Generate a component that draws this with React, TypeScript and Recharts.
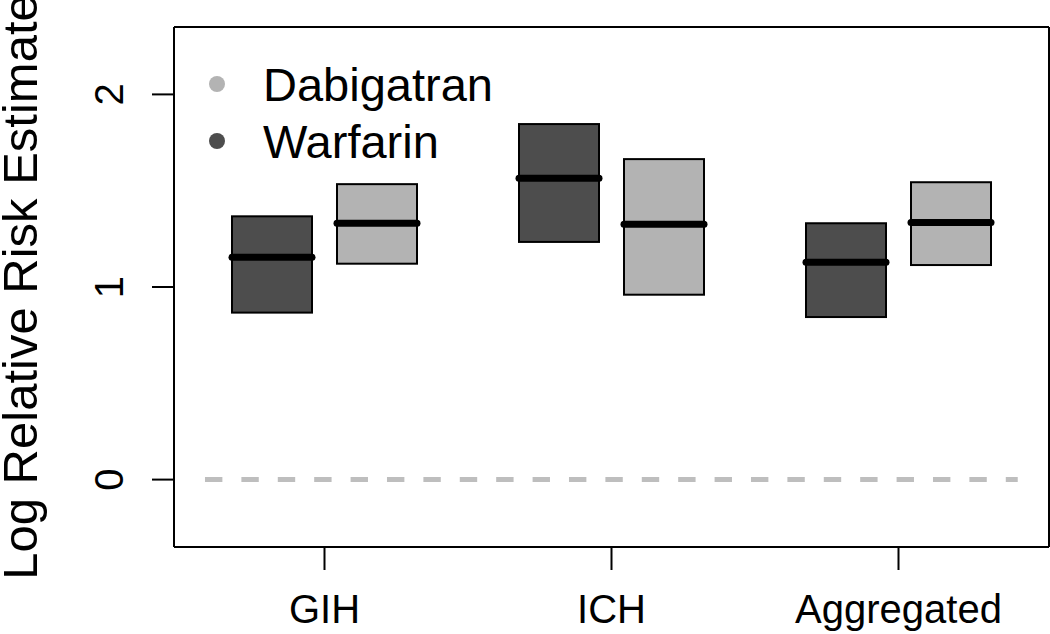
import React from "react"
import {
  Bar,
  CartesianGrid,
  ComposedChart,
  Line,
  XAxis,
  YAxis,
} from "recharts"

const categories = ["GIH", "ICH", "Aggregated"]
const warfarinLow = [0.867, 1.234, 0.844]
const warfarinMedian = [1.154, 1.565, 1.128]
const warfarinHigh = [1.367, 1.846, 1.331]
const dabigatranLow = [1.121, 0.96, 1.114]
const dabigatranMedian = [1.331, 1.326, 1.335]
const dabigatranHigh = [1.534, 1.664, 1.544]
const yTicks = [0, 1, 2]
const yDomain = [-0.35, 2.35]
const xNumDomain = [0.475, 3.525]
// dashed reference line at log RR = 0
const zeroLine = [
  { x: 0.583, y: 0 },
  { x: 3.416, y: 0 },
]

const data = categories.map((name, i) => ({
  name,
  wLow: warfarinLow[i],
  wMed: warfarinMedian[i],
  wHigh: warfarinHigh[i],
  dLow: dabigatranLow[i],
  dMed: dabigatranMedian[i],
  dHigh: dabigatranHigh[i],
}))

const FONT = "'Liberation Sans', Arial, Helvetica, sans-serif"
const DARK = "#4d4d4d"
const LIGHT = "#b3b3b3"

function makeBox(prefix: "w" | "d") {
  return (props: any) => {
    const { x, y, width, height, fill, payload } = props
    const top = Math.min(y, y + height)
    const h = Math.abs(height)
    const lo = payload[prefix + "Low"]
    const hi = payload[prefix + "High"]
    const med = payload[prefix + "Med"]
    const my = top + (h * (hi - med)) / (hi - lo)
    return (
      <g>
        <rect x={x} y={top} width={width} height={h} fill={fill} stroke="#000" strokeWidth={2} />
        <line x1={x} x2={x + width} y1={my} y2={my} stroke="#000" strokeWidth={7} strokeLinecap="round" />
      </g>
    )
  }
}

const XTick = ({ x, y, payload }: any) => (
  <text x={x} y={y + 51} textAnchor="middle" fontSize={40} fontFamily={FONT} fill="#000">
    {payload.value}
  </text>
)

const YTick = ({ x, y, payload }: any) => {
  const bx = x - 27
  return (
    <text
      x={bx}
      y={y}
      transform={`rotate(-90 ${bx} ${y})`}
      textAnchor="middle"
      fontSize={40}
      fontFamily={FONT}
      fill="#000"
    >
      {payload.value}
    </text>
  )
}

const YTitle = ({ viewBox }: any) => {
  const cy = viewBox.y + viewBox.height / 2
  const bx = 37
  return (
    <text
      x={bx}
      y={cy}
      transform={`rotate(-90 ${bx} ${cy})`}
      textAnchor="middle"
      fontSize={49}
      fontFamily={FONT}
      fill="#000"
    >
      Log Relative Risk Estimate
    </text>
  )
}

const legendItems = [
  { label: "Dabigatran", color: LIGHT, cy: 84 },
  { label: "Warfarin", color: DARK, cy: 141 },
]

export default function App() {
  return (
    <div style={{ position: "absolute", left: 0, top: 0, width: 1050, height: 634, background: "#fff" }}>
      <ComposedChart
        width={1050}
        height={634}
        data={data}
        margin={{ top: 27, right: 1, left: 0, bottom: 0 }}
        barSize={80}
        barGap={25}
      >
        {/* top and right edges of the plot frame */}
        <CartesianGrid
          stroke="#000"
          strokeWidth={2}
          horizontalCoordinatesGenerator={({ offset }: any) => [offset.top]}
          verticalCoordinatesGenerator={({ offset }: any) => [offset.left + offset.width]}
        />
        <XAxis
          dataKey="name"
          height={87}
          padding={{ left: 7, right: 7 }}
          tickSize={23}
          tick={<XTick />}
          tickLine={{ stroke: "#000", strokeWidth: 2 }}
          axisLine={{ stroke: "#000", strokeWidth: 2 }}
          interval={0}
        />
        <XAxis
          xAxisId="num"
          dataKey="x"
          type="number"
          domain={xNumDomain}
          allowDataOverflow
          hide
        />
        <YAxis
          type="number"
          domain={yDomain}
          allowDataOverflow
          ticks={yTicks}
          width={174}
          tickSize={22}
          tick={<YTick />}
          tickLine={{ stroke: "#000", strokeWidth: 2 }}
          axisLine={{ stroke: "#000", strokeWidth: 2 }}
          label={<YTitle />}
        />
        <Line
          xAxisId="num"
          data={zeroLine}
          dataKey="y"
          stroke="#bebebe"
          strokeWidth={5}
          strokeDasharray="17.4 19"
          dot={false}
          activeDot={false}
          isAnimationActive={false}
        />
        <Bar
          dataKey={(d: any) => [d.wLow, d.wHigh]}
          name="Warfarin"
          fill={DARK}
          shape={makeBox("w")}
          isAnimationActive={false}
        />
        <Bar
          dataKey={(d: any) => [d.dLow, d.dHigh]}
          name="Dabigatran"
          fill={LIGHT}
          shape={makeBox("d")}
          isAnimationActive={false}
        />
      </ComposedChart>
      <svg
        width={320}
        height={140}
        style={{ position: "absolute", left: 190, top: 45 }}
      >
        {legendItems.map((it) => (
          <g key={it.label}>
            <circle cx={27} cy={it.cy - 45} r={8} fill={it.color} />
            <text x={73} y={it.cy - 45 + 17} fontSize={47} fontFamily={FONT} fill="#000">
              {it.label}
            </text>
          </g>
        ))}
      </svg>
    </div>
  )
}
